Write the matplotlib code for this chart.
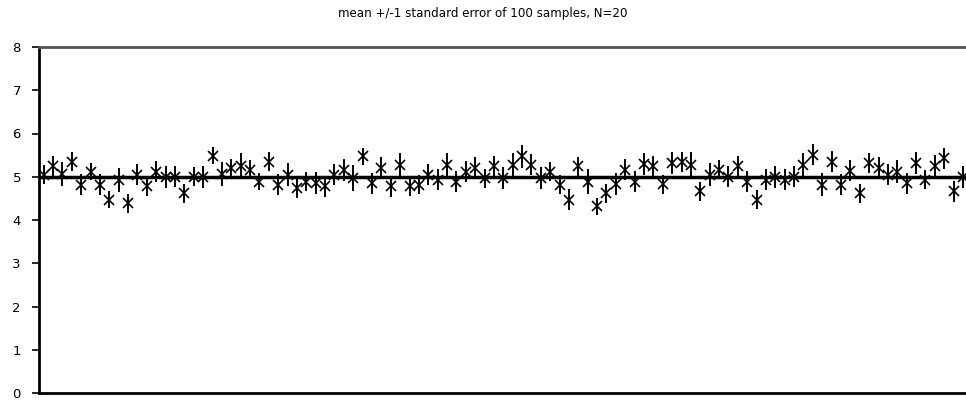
import numpy as np
from matplotlib import pyplot as plt

# sample means (100 samples, each of N=20)
means = [5.05, 5.24, 5.06, 5.35, 4.82, 5.12, 4.82, 4.47, 4.93, 4.39,
         5.05, 4.78, 5.12, 5.00, 5.00, 4.62, 5.00, 5.00, 5.49, 5.06,
         5.20, 5.24, 5.16, 4.89, 5.35, 4.82, 5.05, 4.74, 4.89, 4.85,
         4.78, 5.05, 5.16, 4.98, 5.47, 4.85, 5.20, 4.78, 5.28, 4.78,
         4.82, 5.05, 4.93, 5.28, 4.89, 5.12, 5.20, 4.97, 5.24, 4.97,
         5.28, 5.47, 5.28, 4.97, 5.12, 4.82, 4.47, 5.24, 4.89, 4.32,
         4.62, 4.83, 5.16, 4.89, 5.29, 5.24, 4.83, 5.32, 5.34, 5.28,
         4.66, 5.05, 5.16, 5.00, 5.24, 4.89, 4.47, 4.93, 5.00, 4.93,
         5.00, 5.28, 5.51, 4.82, 5.35, 4.82, 5.14, 4.62, 5.32, 5.20,
         5.05, 5.12, 4.85, 5.32, 4.93, 5.24, 5.43, 4.66, 5.00, 5.02]

# standard errors (half length of each bar)
se = [0.22, 0.24, 0.28, 0.22, 0.24, 0.20, 0.24, 0.19, 0.28, 0.22,
      0.24, 0.22, 0.24, 0.26, 0.24, 0.22, 0.22, 0.26, 0.20, 0.28,
      0.22, 0.30, 0.22, 0.20, 0.22, 0.24, 0.26, 0.22, 0.22, 0.26,
      0.24, 0.24, 0.26, 0.30, 0.20, 0.24, 0.26, 0.24, 0.28, 0.22,
      0.22, 0.24, 0.24, 0.26, 0.24, 0.24, 0.26, 0.22, 0.24, 0.26,
      0.28, 0.26, 0.24, 0.26, 0.22, 0.22, 0.24, 0.22, 0.28, 0.20,
      0.22, 0.26, 0.24, 0.24, 0.26, 0.24, 0.22, 0.26, 0.24, 0.30,
      0.22, 0.26, 0.22, 0.24, 0.24, 0.24, 0.22, 0.24, 0.26, 0.24,
      0.24, 0.26, 0.24, 0.26, 0.24, 0.24, 0.24, 0.22, 0.24, 0.26,
      0.24, 0.26, 0.24, 0.26, 0.22, 0.26, 0.24, 0.24, 0.26, 0.24]

true_mean = 5
yticks = [0, 1, 2, 3, 4, 5, 6, 7, 8]
title = "mean +/-1 standard error of 100 samples, N=20"

x = np.arange(1, len(means) + 1)

fig = plt.figure(figsize=(9.66, 4.0), dpi=100)
# axes runs a bit past the right edge, like the cropped original
ax = fig.add_axes([39 / 966, 7 / 400, 938 / 966, 346 / 400])

ax.axhline(true_mean, color="black", lw=2.5, zorder=1)
ax.errorbar(x, means, yerr=se, fmt="x", color="black", ms=6.5, mew=1.2,
            elinewidth=1.4, capsize=0, zorder=2)

ax.set_xlim(0.5, 100.5)
ax.set_ylim(0, 8)
ax.set_yticks(yticks)
ax.set_xticks([])
ax.tick_params(axis="y", length=5, width=1.2, labelsize=9.5, pad=8)

ax.spines["right"].set_visible(False)
ax.spines["left"].set_linewidth(2)
ax.spines["bottom"].set_linewidth(2)
ax.spines["top"].set_linewidth(2)
ax.spines["top"].set_color("#555555")

fig.text(0.5, 1 - 14 / 400, title, ha="center", va="center", fontsize=8.6)

fig.savefig("out.png", dpi=100)
